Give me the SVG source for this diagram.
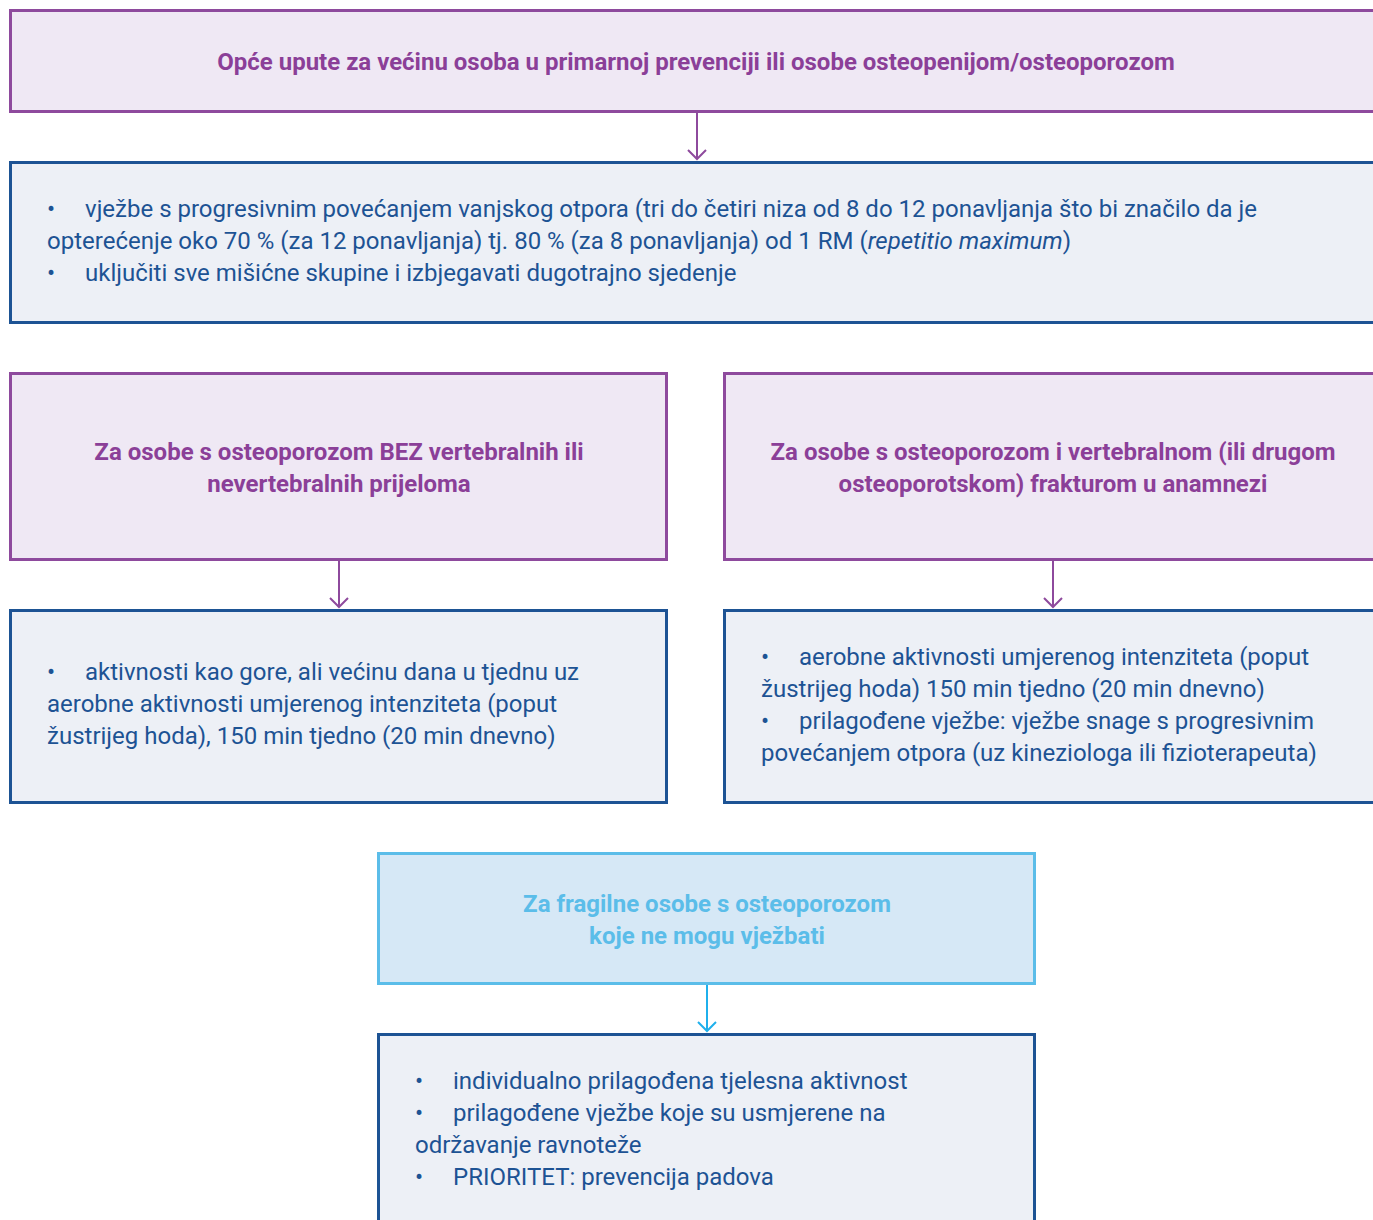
<svg xmlns="http://www.w3.org/2000/svg" width="1373" height="1220" viewBox="0 0 1373 1220">
<style>
.pbox{fill:#efe8f4;stroke:#8e4a9d;stroke-width:3}
.bbox{fill:#edf0f6;stroke:#1d5394;stroke-width:3}
.lbox{fill:#d6e8f6;stroke:#5bbde9;stroke-width:3}
.ph{font-family:Roboto,"Liberation Sans",sans-serif;font-size:24px;font-weight:bold;fill:#8b3f98;text-anchor:middle}
.lh{font-family:Roboto,"Liberation Sans",sans-serif;font-size:24px;font-weight:bold;fill:#5bbde9;text-anchor:middle}
.bt{font-family:Roboto,"Liberation Sans",sans-serif;font-size:24px;fill:#1d5394}
.cp{stroke:#8e4a9d;stroke-width:2;fill:none}
.cl{stroke:#1fb0ec;stroke-width:2;fill:none}
</style>
<rect width="1373" height="1220" fill="#ffffff"/>
<g id="n1">
<rect class="pbox" x="10.5" y="10.5" width="1380" height="101"/>
<text class="ph" x="696" y="70">Opće upute za većinu osoba u primarnoj prevenciji ili osobe osteopenijom/osteoporozom</text>
</g>
<g id="n2">
<rect class="bbox" x="10.5" y="162.5" width="1380" height="160"/>
<text class="bt" x="47" y="217">•</text>
<text class="bt" x="85" y="217">vježbe s progresivnim povećanjem vanjskog otpora (tri do četiri niza od 8 do 12 ponavljanja što bi značilo da je</text>
<text class="bt" x="47" y="249">opterećenje oko 70 % (za 12 ponavljanja) tj. 80 % (za 8 ponavljanja) od 1 RM (<tspan font-style="italic">repetitio maximum</tspan>)</text>
<text class="bt" x="47" y="281">•</text>
<text class="bt" x="85" y="281">uključiti sve mišićne skupine i izbjegavati dugotrajno sjedenje</text>
</g>
<g id="n3">
<rect class="pbox" x="10.5" y="373.5" width="656" height="186"/>
<text class="ph" x="339" y="460">Za osobe s osteoporozom BEZ vertebralnih ili</text>
<text class="ph" x="339" y="492">nevertebralnih prijeloma</text>
</g>
<g id="n4">
<rect class="pbox" x="724.5" y="373.5" width="680" height="186"/>
<text class="ph" x="1053" y="460">Za osobe s osteoporozom i vertebralnom (ili drugom</text>
<text class="ph" x="1053" y="492">osteoporotskom) frakturom u anamnezi</text>
</g>
<g id="n5">
<rect class="bbox" x="10.5" y="610.5" width="656" height="192"/>
<text class="bt" x="47" y="680">•</text>
<text class="bt" x="85" y="680">aktivnosti kao gore, ali većinu dana u tjednu uz</text>
<text class="bt" x="47" y="712">aerobne aktivnosti umjerenog intenziteta (poput</text>
<text class="bt" x="47" y="744">žustrijeg hoda), 150 min tjedno (20 min dnevno)</text>
</g>
<g id="n6">
<rect class="bbox" x="724.5" y="610.5" width="680" height="192"/>
<text class="bt" x="761" y="665">•</text>
<text class="bt" x="799" y="665">aerobne aktivnosti umjerenog intenziteta (poput</text>
<text class="bt" x="761" y="697">žustrijeg hoda) 150 min tjedno (20 min dnevno)</text>
<text class="bt" x="761" y="729">•</text>
<text class="bt" x="799" y="729">prilagođene vježbe: vježbe snage s progresivnim</text>
<text class="bt" x="761" y="761">povećanjem otpora (uz kineziologa ili fizioterapeuta)</text>
</g>
<g id="n7">
<rect class="lbox" x="378.5" y="853.5" width="656" height="130"/>
<text class="lh" x="707" y="912">Za fragilne osobe s osteoporozom</text>
<text class="lh" x="707" y="944">koje ne mogu vježbati</text>
</g>
<g id="n8">
<rect class="bbox" x="378.5" y="1034.5" width="656" height="200"/>
<text class="bt" x="415" y="1089">•</text>
<text class="bt" x="453" y="1089">individualno prilagođena tjelesna aktivnost</text>
<text class="bt" x="415" y="1121">•</text>
<text class="bt" x="453" y="1121">prilagođene vježbe koje su usmjerene na</text>
<text class="bt" x="415" y="1153">održavanje ravnoteže</text>
<text class="bt" x="415" y="1185">•</text>
<text class="bt" x="453" y="1185">PRIORITET: prevencija padova</text>
</g>
<g id="connectors">
<path class="cp" d="M697 113 V159 M688 150 L697 159 L706 150"/>
<path class="cp" d="M339 561 V607 M330 598 L339 607 L348 598"/>
<path class="cp" d="M1053 561 V607 M1044 598 L1053 607 L1062 598"/>
<path class="cl" d="M707 985 V1031 M698 1022 L707 1031 L716 1022"/>
</g>
</svg>
